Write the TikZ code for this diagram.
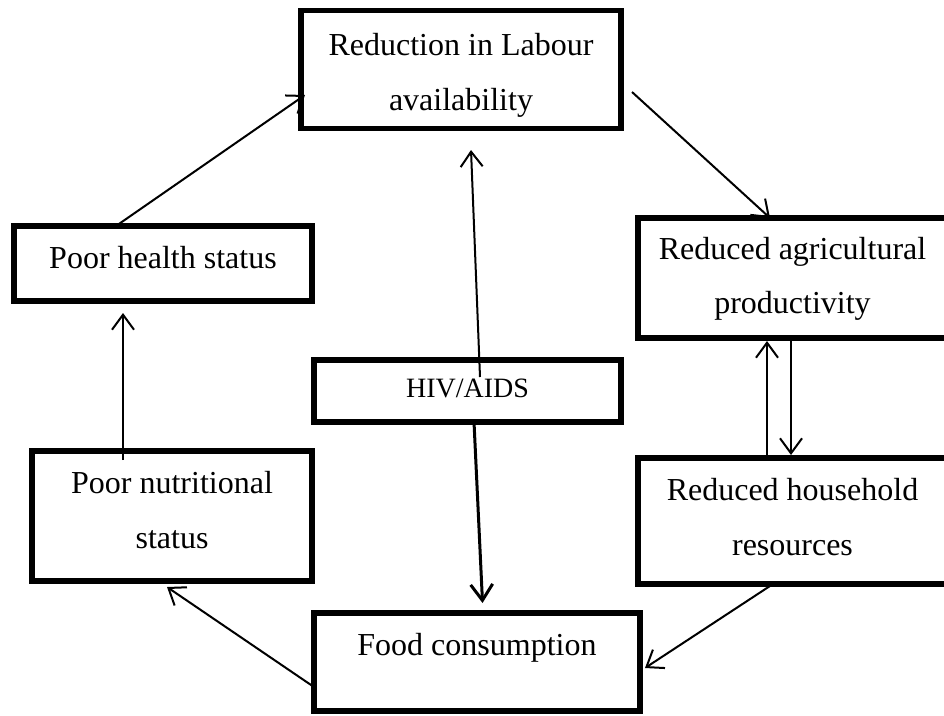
\documentclass[tikz,border=0pt]{standalone}
\usepackage{fontspec}
\setmainfont{Liberation Serif}
\usetikzlibrary{arrows.meta,calc}
\begin{document}
\begin{tikzpicture}[x=1pt,y=-1pt,
  box/.style={draw=black,line width=5.5pt,rectangle,inner sep=0pt,outer sep=0pt},
  txt/.style={anchor=base,inner sep=0pt,font=\fontsize{32}{38}\selectfont},
  stxt/.style={anchor=base,inner sep=0pt,font=\fontsize{28}{34}\selectfont},
  arr/.style={line width=2pt,-{Straight Barb[length=15pt,width=22pt]}},
  thickarr/.style={line width=3pt,-{Straight Barb[length=16pt,width=22pt]}}]
\useasboundingbox (0,0) rectangle (944,715);
\fill[white] (0,0) rectangle (944,715);
% boxes
\node[box,minimum width=320pt,minimum height=118pt] (lab) at (461,69.5) {};
\node[box,minimum width=298pt,minimum height=75pt] (hea) at (163,263.5) {};
\node[box,minimum width=309pt,minimum height=120pt] (agr) at (792.5,278) {};
\node[box,minimum width=307pt,minimum height=62pt] (hiv) at (467.5,391) {};
\node[box,minimum width=280pt,minimum height=130pt] (nut) at (172,516) {};
\node[box,minimum width=309pt,minimum height=126pt] (res) at (792.5,521) {};
\node[box,minimum width=326pt,minimum height=98pt] (food) at (477,662) {};
% texts
\node[txt] (labt1) at (461,55) {Reduction in Labour};
\node[txt] (labt2) at (461,110) {availability};
\node[txt] (heat) at (163,268) {Poor health status};
\node[txt] (agrt1) at (792.5,259) {Reduced agricultural};
\node[txt] (agrt2) at (792.5,313) {productivity};
\node[stxt] (hivt) at (467.5,397) {HIV/AIDS};
\node[txt] (nutt1) at (172,493) {Poor nutritional};
\node[txt] (nutt2) at (172,548) {status};
\node[txt] (rest1) at (792.5,500) {Reduced household};
\node[txt] (rest2) at (792.5,555) {resources};
\node[txt] (foodt) at (477,655) {Food consumption};
% connectors
\draw[arr] (116,0 |- hea.north) -- (305,95);
\draw[arr] (632,92) -- (770,0 |- agr.north);
\draw[arr,shorten >=3pt] (767,0 |- res.north) -- (767,0 |- agr.south);
\draw[arr,shorten >=3pt] (791,0 |- agr.south) -- (791,0 |- res.north);
\draw[arr] (773,0 |- res.south) -- (645,668);
\draw[arr] (food.west |- 0,687) -- (167,587);
\draw[arr] (123,460) -- (123,313);
\draw[arr] (480,377) -- (471,150);
\draw[thickarr,shorten >=10pt] (474,0 |- hiv.south) -- (483,0 |- food.north);
\end{tikzpicture}
\end{document}
